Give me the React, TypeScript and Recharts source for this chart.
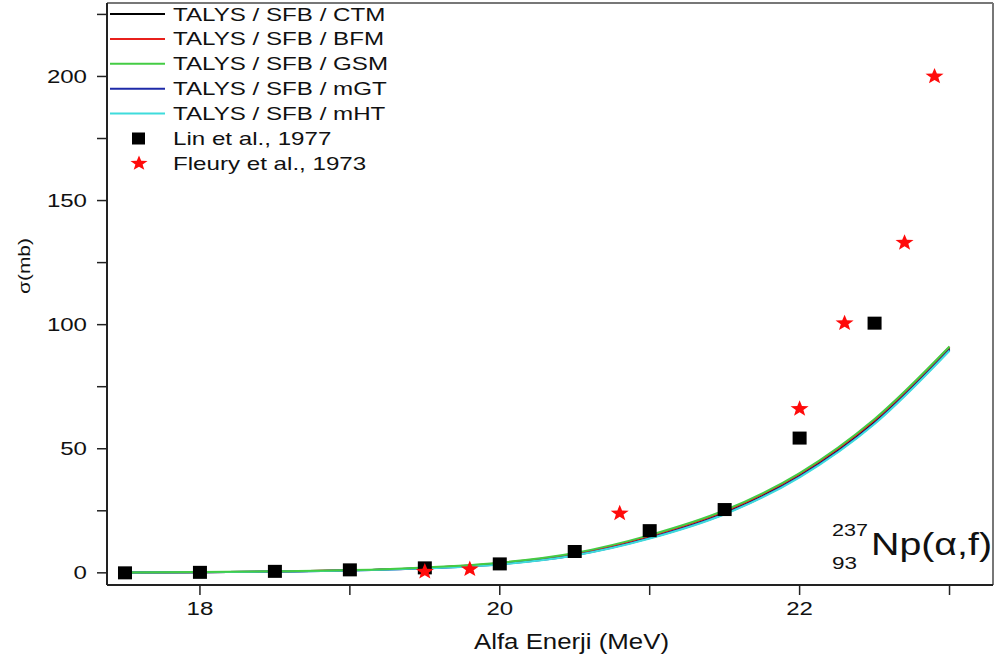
import React from "react";
import { ComposedChart, Line, Scatter, XAxis, YAxis, ReferenceLine } from "recharts";

// TALYS curves, sampled every 0.5 MeV
const energyGrid = [17.5, 18, 18.5, 19, 19.5, 20, 20.5, 21, 21.5, 22, 22.5, 23];
const sigmaCTM = [0.1, 0.2, 0.5, 1.0, 2.0, 3.8, 7.6, 14.6, 24.5, 39.5, 61.0, 90.5];
const sigmaBFM = [0.1, 0.2, 0.5, 1.0, 2.0, 3.9, 7.7, 14.8, 24.8, 39.8, 61.5, 91.0];
const sigmaGSM = [0.1, 0.3, 0.6, 1.1, 2.2, 4.1, 8.0, 15.2, 25.2, 40.2, 62.0, 91.2];
const sigmaMGT = [0.1, 0.2, 0.5, 0.9, 1.8, 3.5, 7.1, 14.0, 23.8, 38.8, 60.3, 89.8];
const sigmaMHT = [0.1, 0.2, 0.5, 0.9, 1.8, 3.4, 7.0, 13.8, 23.6, 38.5, 60.0, 89.5];

// experimental points
const linEnergy = [17.5, 18, 18.5, 19, 19.5, 20, 20.5, 21, 21.5, 22, 22.5];
const linSigma = [0, 0.2, 0.6, 1.2, 2.0, 3.6, 8.6, 17.0, 25.5, 54.3, 100.6];
const fleuryEnergy = [19.5, 19.8, 20.8, 22.0, 22.3, 22.7, 22.9];
const fleurySigma = [0.5, 1.5, 24.0, 66.1, 100.6, 133.0, 200.0];

const xTicks = [18, 19, 20, 21, 22, 23];
const xLabelTicks = [18, 20, 22];
const yTicks = [0, 25, 50, 75, 100, 125, 150, 175, 200, 225];
const yLabelTicks = [0, 50, 100, 150, 200];

const X_DOMAIN: [number, number] = [17.38, 23.29];
const Y_DOMAIN: [number, number] = [-4.9, 229.6];

const FONT = "'Liberation Sans', Arial, sans-serif";
const INK = "#111";

const curves = [
  { name: "TALYS / SFB / CTM", color: "#000000", values: sigmaCTM },
  { name: "TALYS / SFB / BFM", color: "#e8201c", values: sigmaBFM },
  { name: "TALYS / SFB / GSM", color: "#44cc44", values: sigmaGSM },
  { name: "TALYS / SFB / mGT", color: "#1e2aa8", values: sigmaMGT },
  { name: "TALYS / SFB / mHT", color: "#3fdcdc", values: sigmaMHT },
];
// green is drawn last so it sits on top, like the original
const drawOrder = [0, 1, 3, 4, 2];

const linData = linEnergy.map((x, i) => ({ x, y: linSigma[i] }));
const fleuryData = fleuryEnergy.map((x, i) => ({ x, y: fleurySigma[i] }));

const starPoints = (cx: number, cy: number, rx: number, ry: number) => {
  const pts: string[] = [];
  for (let i = 0; i < 10; i++) {
    const a = -Math.PI / 2 + (i * Math.PI) / 5;
    const k = i % 2 === 0 ? 1 : 0.42;
    pts.push(`${cx + Math.cos(a) * rx * k},${cy + Math.sin(a) * ry * k}`);
  }
  return pts.join(" ");
};

const SquareShape = (p: any) => (
  <rect x={p.cx - 7} y={p.cy - 6.5} width={14} height={13} fill="#000" />
);
const StarShape = (p: any) => (
  <polygon points={starPoints(p.cx, p.cy, 9.5, 8.5)} fill="#ff0a0a" />
);

const XTick = ({ x, y, payload }: any) =>
  xLabelTicks.includes(payload.value) ? (
    <text
      transform={`translate(${x},${y + 18}) scale(1.3,1)`}
      textAnchor="middle"
      fontFamily={FONT}
      fontSize={18.5}
      fill={INK}
    >
      {payload.value}
    </text>
  ) : (
    <g />
  );

const YTick = ({ x, y, payload }: any) =>
  yLabelTicks.includes(payload.value) ? (
    <text
      transform={`translate(${x - 8},${y + 6.5}) scale(1.3,1)`}
      textAnchor="end"
      fontFamily={FONT}
      fontSize={18.5}
      fill={INK}
    >
      {payload.value}
    </text>
  ) : (
    <g />
  );

const LegendOverlay = () => {
  const rows = [
    ...curves.map((c) => ({ name: c.name, kind: "line", color: c.color })),
    { name: "Lin et al., 1977", kind: "square", color: "#000" },
    { name: "Fleury et al., 1973", kind: "star", color: "#ff0a0a" },
  ];
  return (
    <g>
      {rows.map((r, i) => {
        const cy = 14 + i * 24.9;
        return (
          <g key={r.name}>
            {r.kind === "line" && (
              <line x1={110} x2={165} y1={cy} y2={cy} stroke={r.color} strokeWidth={2} />
            )}
            {r.kind === "square" && <rect x={132} y={cy - 6} width={13} height={12} fill="#000" />}
            {r.kind === "star" && <polygon points={starPoints(139, cy, 9, 8)} fill="#ff0a0a" />}
            <text
              transform={`translate(173,${cy + 6.5}) scale(1.38,1)`}
              fontFamily={FONT}
              fontSize={17.5}
              fill={INK}
            >
              {r.name}
            </text>
          </g>
        );
      })}
    </g>
  );
};

export default function App() {
  return (
    <div style={{ position: "absolute", left: 0, top: 0, width: 996, height: 662, background: "#fff" }}>
      <ComposedChart width={996} height={662} margin={{ top: 3, right: 3, left: 0, bottom: 0 }}>
        <XAxis
          type="number"
          dataKey="x"
          domain={X_DOMAIN}
          allowDataOverflow
          ticks={xTicks}
          tick={<XTick />}
          tickSize={10}
          height={77}
          axisLine={{ stroke: "#222", strokeWidth: 2 }}
          tickLine={{ stroke: "#222", strokeWidth: 1.5 }}
        />
        <YAxis
          type="number"
          domain={Y_DOMAIN}
          allowDataOverflow
          ticks={yTicks}
          tick={<YTick />}
          tickSize={10}
          width={107}
          axisLine={{ stroke: "#222", strokeWidth: 2 }}
          tickLine={{ stroke: "#222", strokeWidth: 1.5 }}
        />
        <ReferenceLine y={Y_DOMAIN[1]} stroke="#777" strokeWidth={2} />
        <ReferenceLine x={X_DOMAIN[1]} stroke="#777" strokeWidth={2} />
        {drawOrder.map((ci) => {
          const c = curves[ci];
          return (
            <Line
              key={c.name}
              data={energyGrid.map((x, i) => ({ x, y: c.values[i] }))}
              dataKey="y"
              type="monotone"
              stroke={c.color}
              strokeWidth={2}
              dot={false}
              activeDot={false}
              isAnimationActive={false}
            />
          );
        })}
        <Scatter data={linData} dataKey="y" shape={SquareShape} isAnimationActive={false} />
        <Scatter data={fleuryData} dataKey="y" shape={StarShape} isAnimationActive={false} />
      </ComposedChart>
      <svg
        width={996}
        height={662}
        style={{ position: "absolute", left: 0, top: 0, pointerEvents: "none" }}
      >
        <LegendOverlay />
        <text
          transform="translate(30,266) rotate(-90)"
          textAnchor="middle"
          fontFamily={FONT}
          fontSize={17}
          textLength={56}
          lengthAdjust="spacingAndGlyphs"
          fill={INK}
        >
          σ(mb)
        </text>
        <text
          x={474}
          y={649}
          fontFamily={FONT}
          fontSize={21.5}
          textLength={195}
          lengthAdjust="spacingAndGlyphs"
          fill={INK}
        >
          Alfa Enerji (MeV)
        </text>
        <text x={832} y={536} fontFamily={FONT} fontSize={17} textLength={36} lengthAdjust="spacingAndGlyphs" fill={INK}>
          237
        </text>
        <text x={832} y={569} fontFamily={FONT} fontSize={17} textLength={25} lengthAdjust="spacingAndGlyphs" fill={INK}>
          93
        </text>
        <text x={871} y={555} fontFamily={FONT} fontSize={32} textLength={121} lengthAdjust="spacingAndGlyphs" fill={INK}>
          Np(α,f)
        </text>
      </svg>
    </div>
  );
}
